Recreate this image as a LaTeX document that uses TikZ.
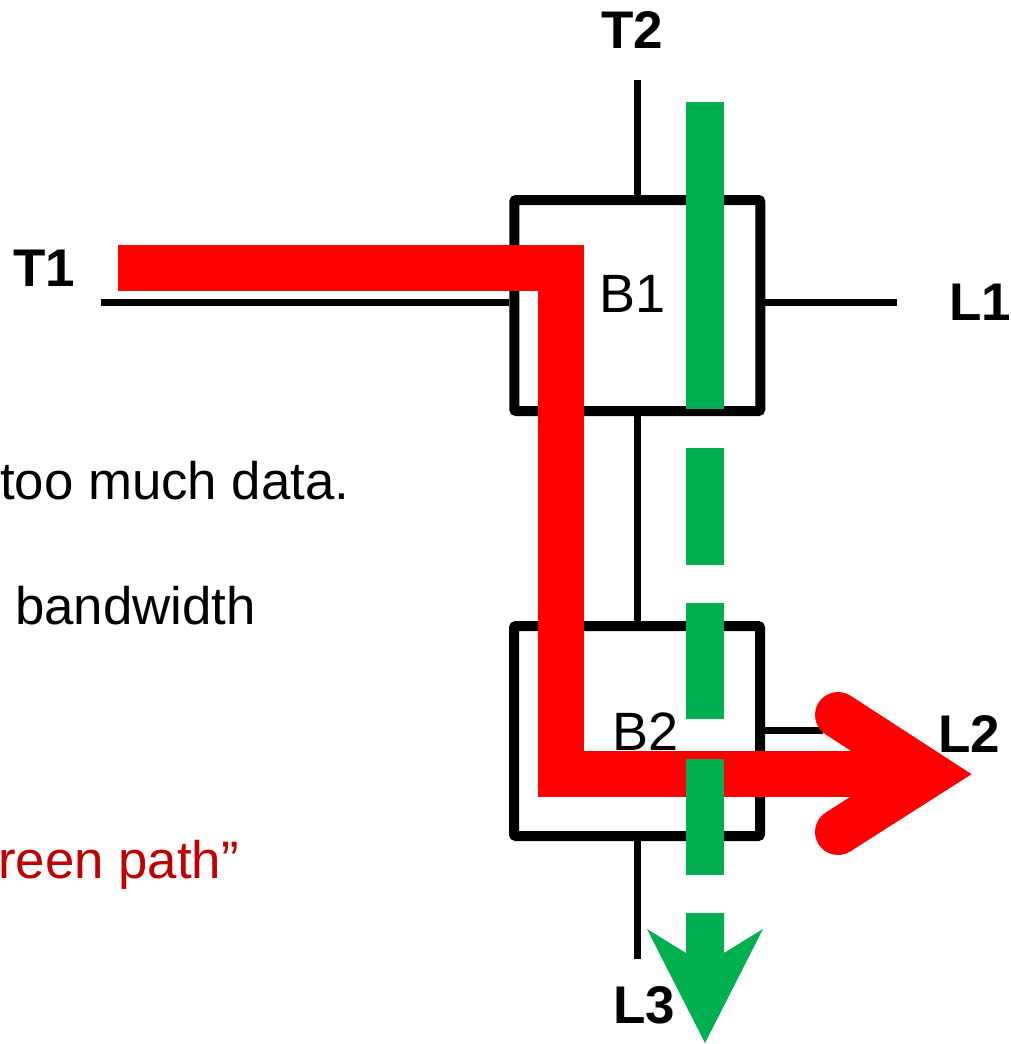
\documentclass[tikz,border=0pt]{standalone}
\usepackage{fontspec}
\setmainfont{Liberation Sans}
\definecolor{pathred}{HTML}{FF0000}
\definecolor{pathgreen}{HTML}{00B050}
\definecolor{textred}{HTML}{C00000}
\begin{document}
\begin{tikzpicture}[x=1pt,y=-1pt,
  boxnode/.style={draw=black,line width=10pt,rounded corners=2pt,minimum width=246pt,minimum height=211pt,inner sep=0pt},
  wire/.style={draw=black,line width=7pt},
  portlabel/.style={inner sep=0pt,anchor=base,font=\fontsize{53}{60}\selectfont\bfseries},
  boxlabel/.style={inner sep=0pt,anchor=base,font=\fontsize{54}{60}\selectfont},
  bodytext/.style={inner sep=0pt,anchor=base west,font=\fontsize{52.8}{60}\selectfont},
  redpath/.style={draw=pathred,line width=46pt,line join=miter},
  greenpath/.style={draw=pathgreen,line width=38pt,dash pattern=on 307pt off 39pt on 117pt off 38pt on 116pt off 40pt on 116pt off 39pt}
]
\useasboundingbox (0,0) rectangle (1011,1044);
\fill[white] (0,0) rectangle (1011,1044);

% boxes
\node[boxnode] (B1) at (637.25,305.5) {};
\node[boxnode,minimum height=210pt] (B2) at (637,731) {};

% wire end points
\coordinate (t2end) at (637.5,80);
\coordinate (t1end) at (101,302.5);
\coordinate (l1end) at (897,302);
\coordinate (l2end) at (823,730.5);
\coordinate (l3end) at (637.5,959);

% wires
\draw[wire] (t2end) -- (t2end |- B1.north);
\draw[wire] (t1end) -- (t1end -| B1.west);
\draw[wire] (l1end -| B1.east) -- (l1end);
\draw[wire] (637.5,0 |- B1.south) -- (637.5,0 |- B2.north);
\draw[wire] (l2end -| B2.east) -- (l2end);
\draw[wire] (637.5,0 |- B2.south) -- (l3end);

% labels
\node[portlabel] (T2) at (632,48) {T2};
\node[portlabel] (T1) at (44.5,286) {T1};
\node[portlabel] (L1) at (980.5,320) {L1};
\node[portlabel] (L2) at (969,752) {L2};
\node[portlabel] (L3) at (644,1023) {L3};
\node[boxlabel] (B1lab) at (632.5,312) {B1};
\node[boxlabel] (B2lab) at (645.5,750) {B2};

% body text
\node[bodytext] (txta) at (0,499) {too much data.};
\node[bodytext] (txtb) at (15,624) {bandwidth};
\node[bodytext,text=textred] (txtc) at (-2,878) {reen path”};

% red path
\coordinate (r0) at (118,267.5);
\coordinate (r1) at (561,267.5);
\coordinate (r2) at (561,774);
\coordinate (r3) at (929,774);
\coordinate (ra) at (838,715);
\coordinate (rb) at (838,832);
\draw[redpath] (r0) -- (r1) -- (r2) -- (r3);
\draw[redpath,line cap=round] (ra) -- (r3) -- (rb);

% green path
\coordinate (g0) at (705,102);
\coordinate (g1) at (705,914);
\draw[greenpath] (g0) -- (g1);
\fill[pathgreen] (647,929) -- (686,953) -- (686,913) -- (724,913) -- (724,953) -- (763,929) -- (705,1043) -- cycle;
\end{tikzpicture}
\end{document}
